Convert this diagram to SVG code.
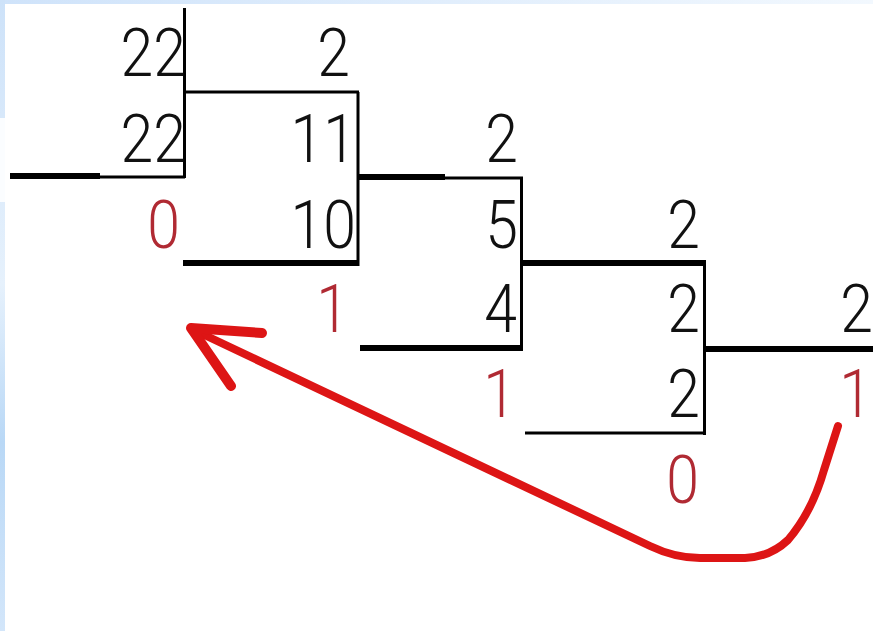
<svg xmlns="http://www.w3.org/2000/svg" width="873" height="631" viewBox="0 0 873 631">
<defs>
<linearGradient id="topg" x1="0" y1="0" x2="1" y2="0">
<stop offset="0" stop-color="#cfe3fa"/><stop offset="1" stop-color="#f2f8fe"/>
</linearGradient>
<linearGradient id="leftg" x1="0" y1="0" x2="0" y2="1">
<stop offset="0" stop-color="#cde2f9"/><stop offset="0.45" stop-color="#e6f1fc"/><stop offset="0.7" stop-color="#b9d8f6"/><stop offset="1" stop-color="#d3e6fa"/>
</linearGradient>
</defs>
<style>
.d{font-family:Roboto,"Liberation Sans",Arial,sans-serif;font-weight:300;font-size:67px;text-anchor:end;fill:#111}
.r{fill:#b02a33}
.t{stroke:#000;stroke-width:3;fill:none}
.k{stroke:#000;stroke-width:6;fill:none}
.arrow{stroke:#dd1515;fill:none;stroke-linecap:round;stroke-linejoin:round}
</style>
<rect width="873" height="631" fill="#fff"/>
<rect x="0" y="0" width="873" height="4" fill="url(#topg)"/>
<rect x="0" y="0" width="5" height="631" fill="url(#leftg)"/>
<rect x="0" y="118" width="5" height="84" fill="#fbfdff"/>
<g id="connectors">
<line class="t" x1="184.5" y1="8" x2="184.5" y2="178"/>
<line class="t" x1="184" y1="92" x2="359" y2="92"/>
<line class="t" x1="358" y1="92" x2="358" y2="266"/>
<line class="k" x1="10" y1="176" x2="100" y2="176"/>
<line class="t" x1="100" y1="177" x2="185" y2="177"/>
<line class="k" x1="358" y1="177" x2="445" y2="177"/>
<line class="t" x1="445" y1="178" x2="523" y2="178"/>
<line class="k" x1="183" y1="263" x2="359" y2="263"/>
<line class="t" x1="521.5" y1="177" x2="521.5" y2="351"/>
<line class="k" x1="521" y1="263" x2="706" y2="263"/>
<line class="k" x1="360" y1="348" x2="523" y2="348"/>
<line class="t" x1="704.5" y1="262" x2="704.5" y2="435"/>
<line class="k" x1="704" y1="349" x2="873" y2="349"/>
<line class="t" x1="525" y1="433" x2="706" y2="433"/>
</g>
<g id="col1">
<text class="d" transform="translate(186,76) scale(0.88,1)">22</text>
<text class="d" transform="translate(186,162) scale(0.88,1)">22</text>
<text class="d r" transform="translate(180,248) scale(0.88,1)">0</text>
</g>
<g id="col2">
<text class="d" transform="translate(350,76) scale(0.88,1)">2</text>
<text class="d" transform="translate(356,162) scale(0.88,1)">11</text>
<text class="d" transform="translate(356,248) scale(0.88,1)">10</text>
<text class="d r" transform="translate(349,332) scale(0.88,1)">1</text>
</g>
<g id="col3">
<text class="d" transform="translate(518,162) scale(0.88,1)">2</text>
<text class="d" transform="translate(518,248) scale(0.88,1)">5</text>
<text class="d" transform="translate(517,332) scale(0.88,1)">4</text>
<text class="d r" transform="translate(516,417) scale(0.88,1)">1</text>
</g>
<g id="col4">
<text class="d" transform="translate(700,248) scale(0.88,1)">2</text>
<text class="d" transform="translate(700,332) scale(0.88,1)">2</text>
<text class="d" transform="translate(700,417) scale(0.88,1)">2</text>
<text class="d r" transform="translate(699,503) scale(0.88,1)">0</text>
</g>
<g id="col5">
<text class="d" transform="translate(873,332) scale(0.88,1)">2</text>
<text class="d r" transform="translate(872,417) scale(0.88,1)">1</text>
</g>
<g id="arrow">
<path class="arrow" stroke-width="8" d="M196,331 L650,546 Q675,558 700,558 L745,558 Q770,557 788,540 Q812,512 824,470 L838,426"/>
<path class="arrow" stroke-width="10" d="M262,333 L191,328 L231,386"/>
</g>
</svg>
